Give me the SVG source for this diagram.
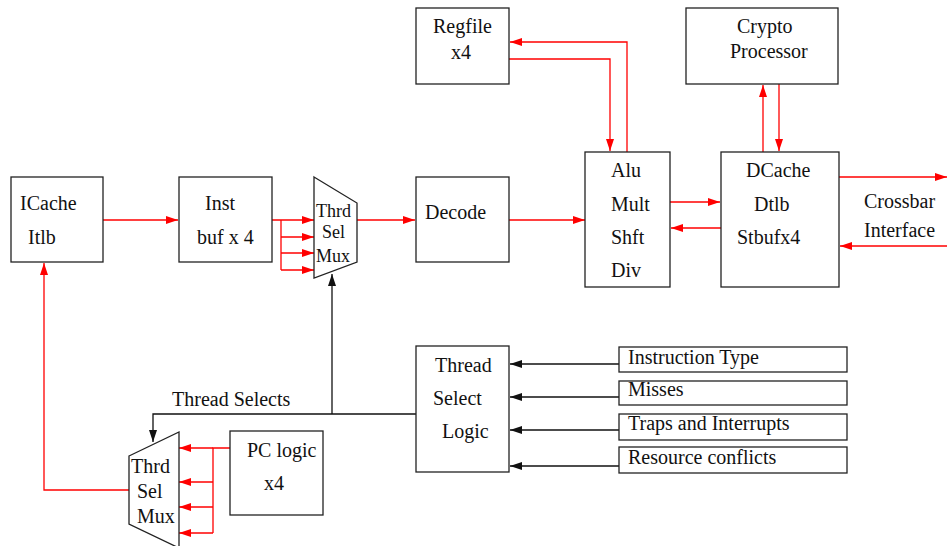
<svg xmlns="http://www.w3.org/2000/svg" width="947" height="546" viewBox="0 0 947 546">
  <style>
    .box { fill: #ffffff; stroke: #222222; stroke-width: 1.3; }
    .lbl { font-family: "Liberation Serif", "Times New Roman", serif; font-size: 20px; fill: #111111; }
    .sm { font-size: 18px; }
    .red { fill: none; stroke: #ff0000; stroke-width: 1.3; }
    .blk { fill: none; stroke: #111111; stroke-width: 1.3; }
    .ra { marker-end: url(#arrRed); }
    .ba { marker-end: url(#arrBlk); }
  </style>
  <defs>
    <marker id="arrRed" markerUnits="userSpaceOnUse" markerWidth="12" markerHeight="8" refX="12" refY="4" orient="auto">
      <path d="M0,0 L12,4 L0,8 Z" fill="#ff0000"/>
    </marker>
    <marker id="arrBlk" markerUnits="userSpaceOnUse" markerWidth="12" markerHeight="8" refX="12" refY="4" orient="auto">
      <path d="M0,0 L12,4 L0,8 Z" fill="#111111"/>
    </marker>
  </defs>
  <rect width="947" height="546" fill="#ffffff"/>

  <!-- connectors -->
  <g id="connectors">
    <!-- fetch path -->
    <path class="red ra" d="M103,220 H178"/>
    <path class="red ra" d="M272,220 H314"/>
    <path class="red" d="M281,220 V270"/>
    <path class="red ra" d="M281,237 H314"/>
    <path class="red ra" d="M281,253 H314"/>
    <path class="red ra" d="M281,270 H314"/>
    <path class="red ra" d="M357,220 H415"/>
    <path class="red ra" d="M509,220 H585"/>
    <!-- regfile -->
    <path class="red ra" d="M627,152 V42 H510"/>
    <path class="red ra" d="M509,59 H610 V151"/>
    <!-- alu / dcache -->
    <path class="red ra" d="M670,202 H720"/>
    <path class="red ra" d="M721,228 H671"/>
    <!-- crypto -->
    <path class="red ra" d="M763,152 V85"/>
    <path class="red ra" d="M779,84 V151"/>
    <!-- crossbar -->
    <path class="red ra" d="M839,177 H947"/>
    <path class="red ra" d="M947,246 H840"/>
    <!-- thread select inputs -->
    <path class="blk ba" d="M619,364 H510"/>
    <path class="blk ba" d="M619,397 H510"/>
    <path class="blk ba" d="M619,430 H510"/>
    <path class="blk ba" d="M619,466 H510"/>
    <!-- thread selects -->
    <path class="blk ba" d="M416,414 H153 V442"/>
    <path class="blk ba" d="M332,414 V274"/>
    <!-- pc logic to mux -->
    <path class="red" d="M230,448 H213 V533"/>
    <path class="red ra" d="M213,448 H179"/>
    <path class="red ra" d="M213,482 H179"/>
    <path class="red ra" d="M213,507 H179"/>
    <path class="red ra" d="M213,533 H179"/>
    <!-- mux back to icache -->
    <path class="red ra" d="M129,490 H44 V263"/>
  </g>
  <text class="lbl" x="172" y="406">Thread Selects</text>
  <text class="lbl" x="864" y="208">Crossbar</text>
  <text class="lbl" x="864" y="237">Interface</text>

  <g id="icache">
    <rect class="box" x="11" y="177" width="92" height="85"/>
    <text class="lbl" x="20" y="210">ICache</text>
    <text class="lbl" x="28" y="244">Itlb</text>
  </g>

  <g id="instbuf">
    <rect class="box" x="179" y="177" width="93" height="85"/>
    <text class="lbl" x="205" y="210">Inst</text>
    <text class="lbl" x="197" y="244">buf x 4</text>
  </g>

  <g id="mux-fetch">
    <path class="box" d="M314,177 L357,203 L357,262 L314,278 Z"/>
    <text class="lbl sm" x="316" y="217">Thrd</text>
    <text class="lbl sm" x="322" y="238">Sel</text>
    <text class="lbl sm" x="316" y="262">Mux</text>
  </g>

  <g id="decode">
    <rect class="box" x="416" y="177" width="93" height="85"/>
    <text class="lbl" x="425" y="219">Decode</text>
  </g>

  <g id="regfile">
    <rect class="box" x="416" y="8" width="93" height="76"/>
    <text class="lbl" x="433" y="33">Regfile</text>
    <text class="lbl" x="451" y="59">x4</text>
  </g>

  <g id="alu">
    <rect class="box" x="585" y="152" width="85" height="135"/>
    <text class="lbl" x="611" y="177">Alu</text>
    <text class="lbl" x="611" y="211">Mult</text>
    <text class="lbl" x="611" y="244">Shft</text>
    <text class="lbl" x="611" y="277">Div</text>
  </g>

  <g id="dcache">
    <rect class="box" x="721" y="152" width="118" height="135"/>
    <text class="lbl" x="746" y="177">DCache</text>
    <text class="lbl" x="754" y="211">Dtlb</text>
    <text class="lbl" x="737" y="244">Stbufx4</text>
  </g>

  <g id="crypto">
    <rect class="box" x="686" y="8" width="152" height="76"/>
    <text class="lbl" x="737" y="33">Crypto</text>
    <text class="lbl" x="730" y="58">Processor</text>
  </g>

  <g id="thread-select">
    <rect class="box" x="416" y="346" width="93" height="126"/>
    <text class="lbl" x="435" y="372">Thread</text>
    <text class="lbl" x="433" y="405">Select</text>
    <text class="lbl" x="442" y="438">Logic</text>
  </g>

  <g id="in-insttype">
    <rect class="box" x="619" y="347" width="228" height="25"/>
    <text class="lbl" x="628" y="364">Instruction Type</text>
  </g>
  <g id="in-misses">
    <rect class="box" x="619" y="381" width="228" height="24"/>
    <text class="lbl" x="628" y="396">Misses</text>
  </g>
  <g id="in-traps">
    <rect class="box" x="619" y="414" width="228" height="26"/>
    <text class="lbl" x="628" y="430">Traps and Interrupts</text>
  </g>
  <g id="in-resource">
    <rect class="box" x="619" y="447" width="228" height="26"/>
    <text class="lbl" x="628" y="464">Resource conflicts</text>
  </g>

  <g id="mux-pc">
    <path class="box" d="M129,456 L179,432 L179,548 L129,524 Z"/>
    <text class="lbl" x="131" y="473">Thrd</text>
    <text class="lbl" x="137" y="498">Sel</text>
    <text class="lbl" x="137" y="523">Mux</text>
  </g>

  <g id="pc-logic">
    <rect class="box" x="230" y="431" width="93" height="84"/>
    <text class="lbl" x="247" y="457">PC logic</text>
    <text class="lbl" x="264" y="490">x4</text>
  </g>
</svg>
